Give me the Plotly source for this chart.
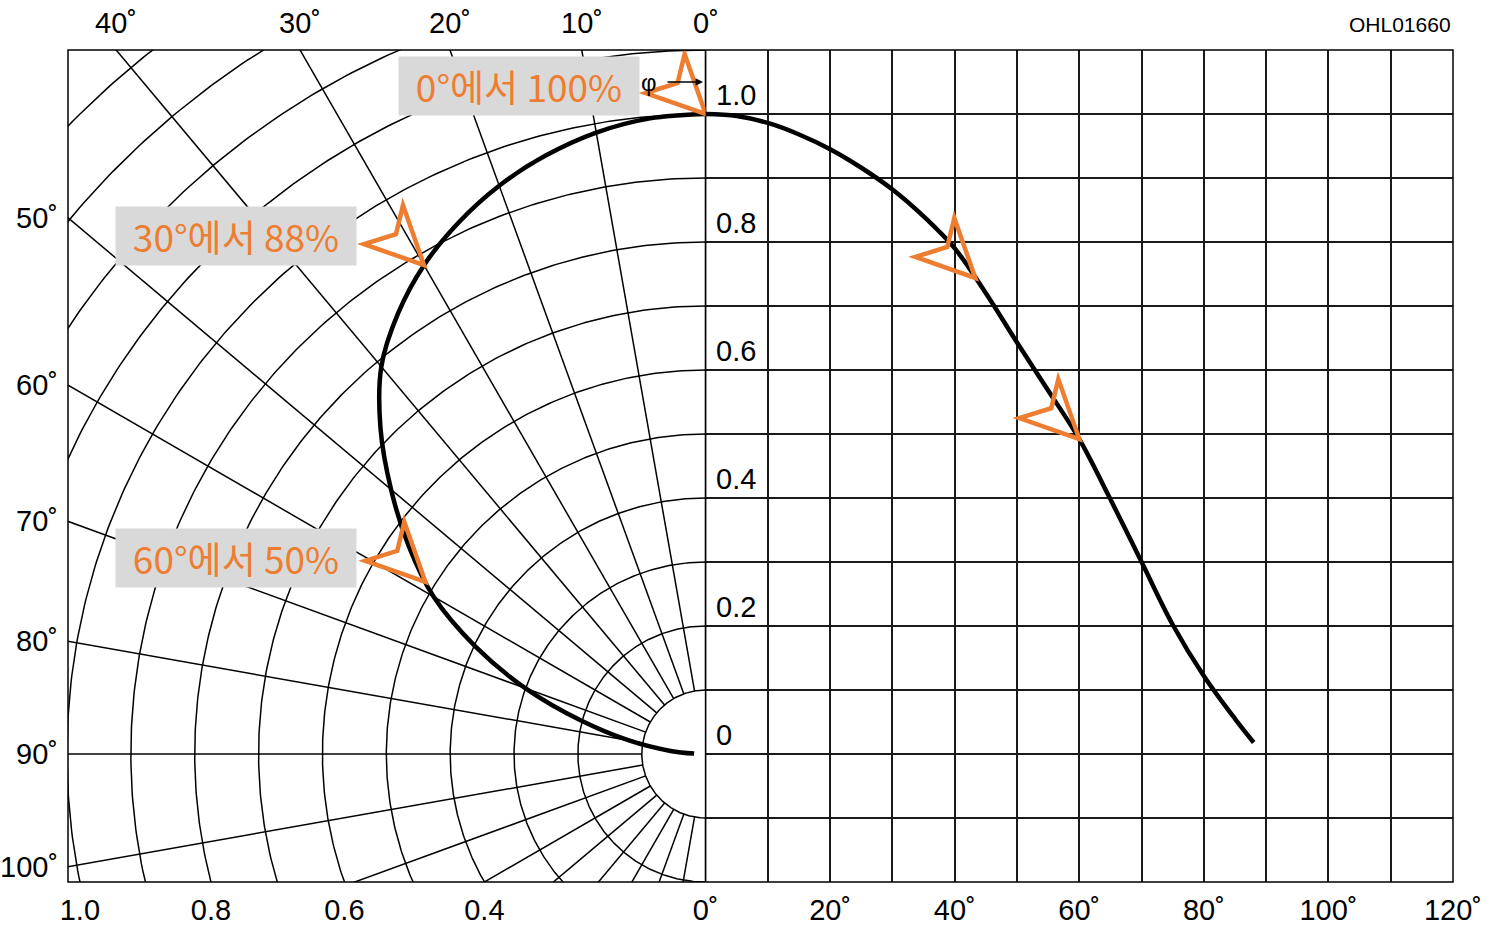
import numpy as np
import plotly.graph_objects as go

# relative luminous intensity vs. emission angle
angles = [0, 5, 10, 15, 20, 25, 30, 35, 40, 45, 50, 55, 60, 65, 70, 75, 80, 85, 88]
intensity = [1.0, 0.997, 0.986, 0.968, 0.945, 0.916, 0.882, 0.840, 0.790, 0.720,
             0.643, 0.568, 0.492, 0.398, 0.300, 0.202, 0.122, 0.055, 0.018]

# axis labels
polar_top_deg = [40, 30, 20, 10, 0]
polar_left_deg = [50, 60, 70, 80, 90, 100]
polar_bottom_r = [1.0, 0.8, 0.6, 0.4]
cart_x_ticks = list(range(0, 121, 10))
cart_y_labels = [0, 0.2, 0.4, 0.6, 0.8, 1.0]

# orange call-outs: (text, box centre x, box centre y) in polar axis units
callouts = [
    ("0°에서 100%", -0.292, 1.044),
    ("30°에서 88%", -0.735, 0.810),
    ("60°에서 50%", -0.735, 0.307),
]
polar_marks = [0, 30, 58.5]
cart_marks = [43.3, 60]

ORANGE = "#ED7D31"
TICK_FONT = "Liberation Sans Narrow, Arial Narrow, Liberation Sans, Arial, sans-serif"
TICK_SIZE = 29

W, H = 1494, 939
M = dict(l=68, r=38, t=50, b=57)
Y_RANGE = [-0.2, 1.1]
X_LEFT = -(639 / 640)
split = 639 / (W - M["l"] - M["r"])

ang = np.radians(angles)
inten = np.array(intensity)

fig = go.Figure()

# polar grid: half circles every 0.1 and rays every 10 degrees
gx, gy = [], []
t = np.linspace(0, np.pi, 361)
for r in np.arange(0.1, 1.45, 0.1):
    gx += list(-r * np.sin(t)) + [None]
    gy += list(r * np.cos(t)) + [None]
for a in range(0, 181, 10):
    th = np.radians(a)
    gx += [-0.1 * np.sin(th), -2 * np.sin(th), None]
    gy += [0.1 * np.cos(th), 2 * np.cos(th), None]
fig.add_trace(go.Scatter(x=gx, y=gy, mode="lines", xaxis="x", yaxis="y",
                         line=dict(color="black", width=1.5), hoverinfo="skip"))

# polar curve
fig.add_trace(go.Scatter(x=-inten * np.sin(ang), y=inten * np.cos(ang),
                         mode="lines", xaxis="x", yaxis="y",
                         line=dict(color="black", width=4.5, shape="spline")))

# cartesian curve
fig.add_trace(go.Scatter(x=angles, y=intensity, mode="lines", xaxis="x2", yaxis="y2",
                         line=dict(color="black", width=4.5, shape="spline")))

tick_font = dict(family=TICK_FONT, size=TICK_SIZE, color="black")
annotations = []
for d in polar_top_deg:
    annotations.append(dict(
        x=-np.tan(np.radians(d)) * Y_RANGE[1], xref="x", y=1, yref="paper",
        text=f"{d}˚", showarrow=False, yanchor="middle", yshift=27,
        font=tick_font))
for d in polar_left_deg:
    annotations.append(dict(
        x=0, xref="paper", y=-X_LEFT / np.tan(np.radians(d)), yref="y",
        text=f"{d}˚", showarrow=False, xanchor="right", xshift=-8,
        yanchor="middle", font=tick_font))
for v in cart_y_labels:
    annotations.append(dict(
        x=0, xref="x2", y=v, yref="y2", text=("0" if v == 0 else f"{v:.1f}"),
        showarrow=False, xanchor="left", xshift=8, yanchor="middle", yshift=19,
        font=tick_font))
annotations.append(dict(
    x=1, xref="paper", y=1, yref="paper", text="OHL01660", showarrow=False,
    xanchor="right", yanchor="middle", yshift=26,
    font=dict(family=TICK_FONT, size=21, color="black")))
annotations.append(dict(
    x=-0.089, xref="x", y=1.05, yref="y", text="φ", showarrow=False,
    font=dict(family=TICK_FONT, size=24, color="black")))
annotations.append(dict(
    x=-0.004, y=1.05, xref="x", yref="y", ax=-0.062, ay=1.05, axref="x", ayref="y",
    text="", showarrow=True, arrowhead=2, arrowsize=1, arrowwidth=1.5, arrowcolor="black"))
for txt, cx, cy in callouts:
    annotations.append(dict(
        x=cx, y=cy, xref="x", yref="y", text=txt, showarrow=False,
        xanchor="center", yanchor="middle", width=240, height=58,
        bgcolor="#D9D9D9", borderpad=0, align="center",
        font=dict(family="Noto Sans CJK KR, Noto Sans, sans-serif", size=37, color=ORANGE)))

# orange open arrowheads pointing at the curve
arrow_path = "M0,0 L-21,60 L-28,31 L-60,21 Z"
shapes = []
# dividing line between the polar and the cartesian part
shapes.append(dict(type="line", xref="paper", yref="paper", x0=split, x1=split, y0=0, y1=1,
                   line=dict(color="black", width=1.6), layer="above"))
for d in polar_marks:
    i = np.interp(d, angles, intensity)
    th = np.radians(d)
    shapes.append(dict(type="path", xref="x", yref="y", xsizemode="pixel", ysizemode="pixel",
                       xanchor=-i * np.sin(th), yanchor=i * np.cos(th), path=arrow_path,
                       line=dict(color=ORANGE, width=4.5), fillcolor="rgba(0,0,0,0)", layer="above"))
for d in cart_marks:
    i = np.interp(d, angles, intensity)
    shapes.append(dict(type="path", xref="x2", yref="y2", xsizemode="pixel", ysizemode="pixel",
                       xanchor=d, yanchor=i, path=arrow_path,
                       line=dict(color=ORANGE, width=4.5), fillcolor="rgba(0,0,0,0)", layer="above"))
shapes.append(dict(type="rect", xref="paper", yref="paper", x0=0, x1=1, y0=0, y1=1,
                   line=dict(color="black", width=1.5), layer="above"))

fig.update_layout(
    width=W, height=H, margin=M,
    paper_bgcolor="white", plot_bgcolor="white",
    showlegend=False,
    annotations=annotations, shapes=shapes,
    xaxis=dict(domain=[0, split], range=[X_LEFT, 0], anchor="y",
               tickvals=[-np.sqrt(r ** 2 - Y_RANGE[0] ** 2) for r in polar_bottom_r],
               ticktext=[f"{r:.1f}" for r in polar_bottom_r],
               showgrid=False, zeroline=False, showline=False, ticks="",
               ticklabelstandoff=8, tickfont=tick_font),
    yaxis=dict(domain=[0, 1], range=Y_RANGE, anchor="x", showgrid=False,
               zeroline=False, showline=False, showticklabels=False),
    xaxis2=dict(domain=[split, 1], range=[0, 120], anchor="y2",
                tickvals=cart_x_ticks,
                ticktext=[f"{v}˚" if v % 20 == 0 else "" for v in cart_x_ticks],
                showgrid=True, gridcolor="#1a1a1a", gridwidth=1.5,
                zeroline=False, showline=False, ticks="",
                ticklabelstandoff=8, tickfont=tick_font),
    yaxis2=dict(domain=[0, 1], range=Y_RANGE, anchor="x2", dtick=0.1, tick0=0,
                showgrid=True, gridcolor="#1a1a1a", gridwidth=1.5,
                zeroline=False, showline=False, showticklabels=False),
)

fig.write_html("out.html", config={"displayModeBar": False},
               post_script="document.body.style.margin = '0';")
